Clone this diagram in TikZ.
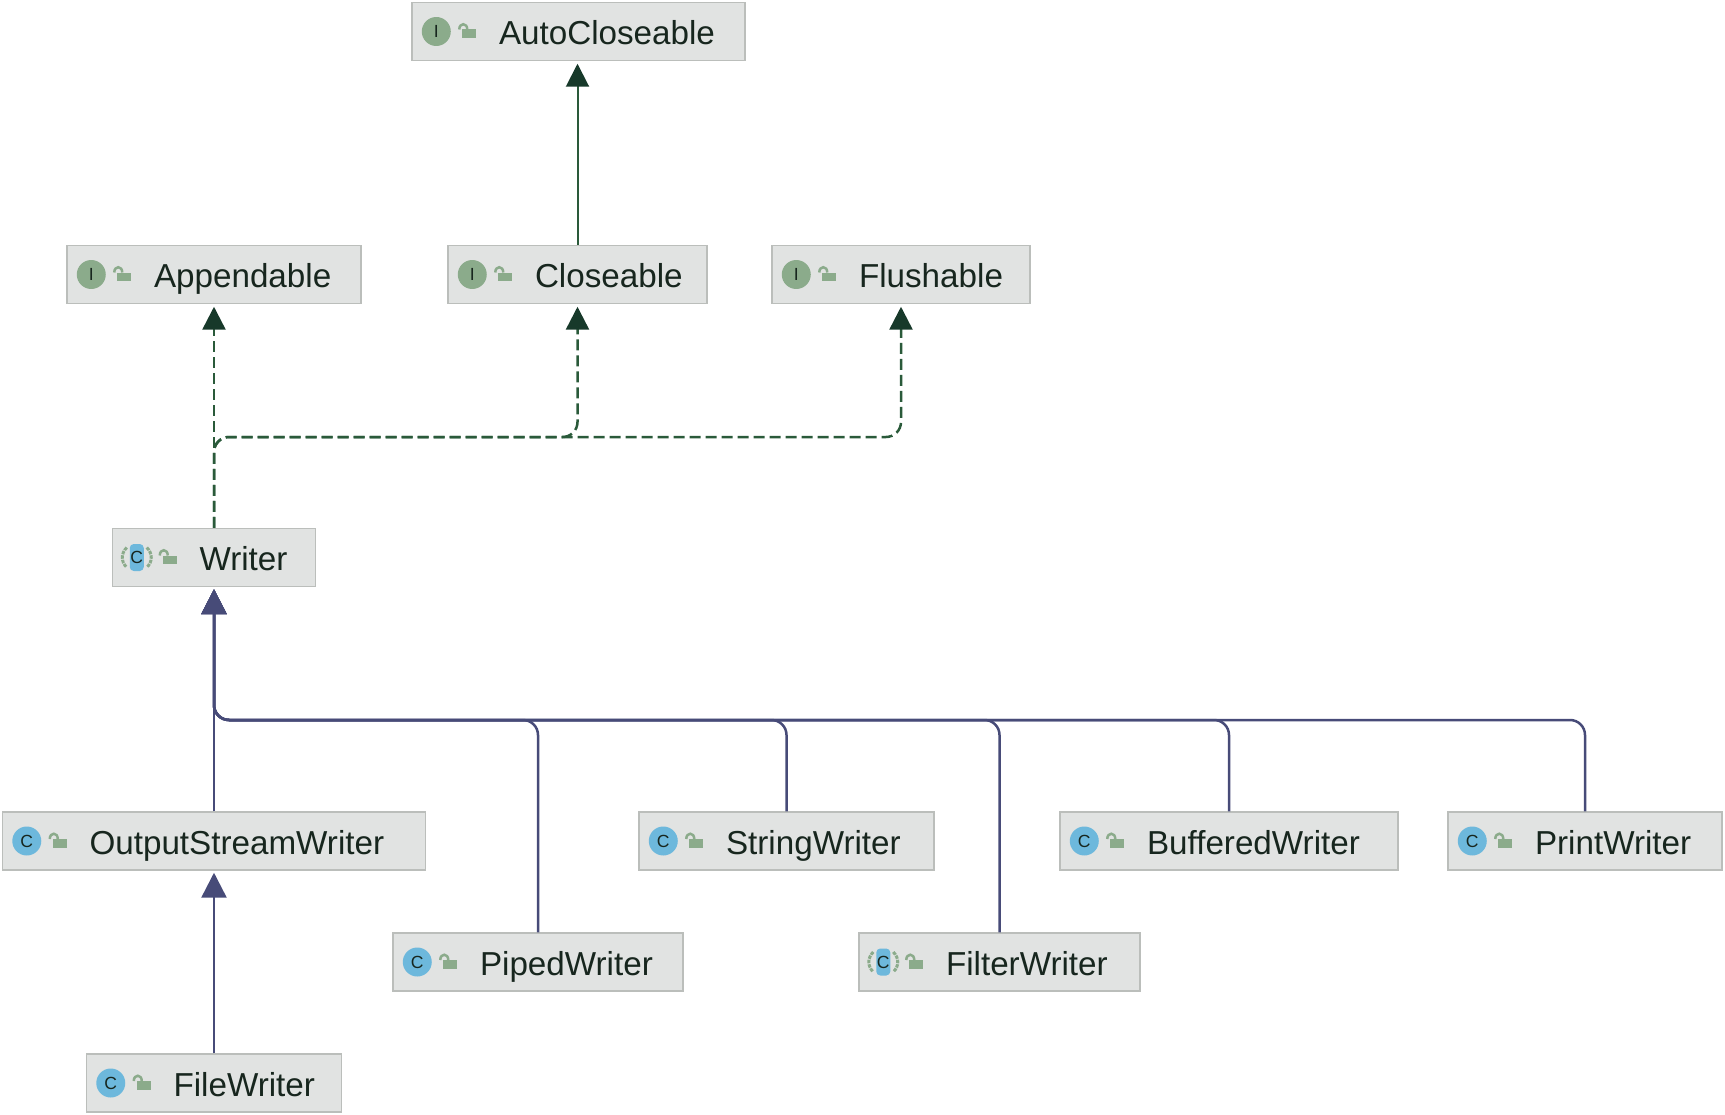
\documentclass[tikz,border=0pt]{standalone}
\usepackage{fontspec}
\setmainfont{Liberation Sans}
\usetikzlibrary{arrows.meta}
\definecolor{box_fill}{HTML}{E1E3E2}
\definecolor{box_line}{HTML}{BBBEBB}
\definecolor{text_dark}{HTML}{17261E}
\definecolor{icon_green}{HTML}{8BAB8B}
\definecolor{icon_blue}{HTML}{6DB8DC}
\definecolor{edge_navy}{HTML}{474B78}
\definecolor{edge_green}{HTML}{2A5A3A}
\definecolor{tip_green}{HTML}{17392A}
\tikzstyle{node_class} = [draw=box_line, fill=box_fill, line width=0.03cm, text=text_dark, font=\fontsize{18.9}{20}\selectfont, align=left, minimum height=1.16cm, inner sep=0pt, text height=0.53cm, text depth=0pt, execute at begin node={\hspace*{1.74cm}}]
\tikzstyle{icon_circle} = [circle, inner sep=0pt, minimum size=0.58cm, text=text_dark, font=\fontsize{10}{10}\selectfont]
\tikzstyle{icon_abstract} = [rectangle, rounded corners=0.08cm, fill=icon_blue, inner sep=0pt, minimum width=0.28cm, minimum height=0.54cm, text=text_dark, font=\fontsize{10}{10}\selectfont]
\tikzstyle{edge_extends} = [edge_navy, line width=0.05cm, rounded corners=0.3cm, shorten >=0.04cm, -{Triangle[length=0.5cm,width=0.5cm]}]
\tikzstyle{edge_inherit} = [edge_green, line width=0.04cm, rounded corners=0.3cm, shorten >=0.05cm, -{Triangle[length=0.46cm,width=0.46cm,color=tip_green]}]
\tikzstyle{edge_implements} = [edge_inherit, line width=0.05cm, dash pattern=on 0.22cm off 0.1cm]
\tikzset{
	lock_icon/.pic={
		\fill[icon_green] (-6,-2) rectangle (8,6.5);
		\draw[icon_green, line width=0.05cm] (-9,-2) .. controls (-9,-9) and (-1,-9) .. (-1,-2);
	},
	abstract_marks/.pic={
		\draw[icon_green, line width=0.06cm, dash pattern=on 0.07cm off 0.02cm] (-10,-10) .. controls (-16,-4) and (-16,4) .. (-10,10);
		\draw[icon_green, line width=0.06cm, dash pattern=on 0.07cm off 0.02cm] (10,-10) .. controls (16,-4) and (16,4) .. (10,10);
	}
}

\begin{document}
\begin{tikzpicture}[x=0.02cm, y=-0.02cm]
	\useasboundingbox (0,0) rectangle (1725,1115);

	\node (autocloseable) at (578.5,31.5) [node_class, text width=6.66cm] {AutoCloseable};
	\node (appendable) at (214,274.5) [node_class, text width=5.88cm] {Appendable};
	\node (closeable) at (577.5,274.5) [node_class, text width=5.18cm] {Closeable};
	\node (flushable) at (901,274.5) [node_class, text width=5.16cm] {Flushable};
	\node (writer) at (214,557.5) [node_class, text width=4.06cm] {Writer};
	\node (outputstream) at (214,841) [node_class, text width=8.46cm] {OutputStreamWriter};
	\node (string) at (786.5,841) [node_class, text width=5.9cm] {StringWriter};
	\node (buffered) at (1229,841) [node_class, text width=6.76cm] {BufferedWriter};
	\node (print) at (1585,841) [node_class, text width=5.48cm] {PrintWriter};
	\node (piped) at (538,962) [node_class, text width=5.8cm] {PipedWriter};
	\node (filter) at (999.5,962) [node_class, text width=5.62cm] {FilterWriter};
	\node (file) at (214,1083) [node_class, text width=5.1cm] {FileWriter};

	% icons
	\foreach \n in {autocloseable,appendable,closeable,flushable}
		\node (\n_icon) at ([xshift=0.5cm]\n.west) [icon_circle, fill=icon_green] {I};
	\foreach \n in {outputstream,string,buffered,print,piped,file}
		\node (\n_icon) at ([xshift=0.5cm]\n.west) [icon_circle, fill=icon_blue] {C};
	\foreach \n in {writer,filter} {
		\pic at ([xshift=0.5cm]\n.west) {abstract_marks};
		\node (\n_icon) at ([xshift=0.5cm]\n.west) [icon_abstract] {C};
	}
	\foreach \n in {autocloseable,appendable,closeable,flushable,writer,outputstream,string,buffered,print,piped,filter,file}
		\pic at ([xshift=1.14cm]\n.west) {lock_icon};

	\coordinate (impl_bend) at (writer.north |- 0,437);
	\coordinate (ext_bend) at (writer.south |- 0,720);

	\draw[edge_inherit] (closeable.north) -- (closeable.north |- autocloseable.south);
	\draw[edge_implements] (writer.north) -- (appendable.south);
	\draw[edge_implements] (writer.north) -- (impl_bend) -| (closeable.south);
	\draw[edge_implements] (writer.north) -- (impl_bend) -| (flushable.south);

	\draw[edge_extends] (outputstream.north) -- (writer.south);
	\draw[edge_extends] (piped.north) |- (ext_bend) -- (writer.south);
	\draw[edge_extends] (string.north) |- (ext_bend) -- (writer.south);
	\draw[edge_extends] (filter.north) |- (ext_bend) -- (writer.south);
	\draw[edge_extends] (buffered.north) |- (ext_bend) -- (writer.south);
	\draw[edge_extends] (print.north) |- (ext_bend) -- (writer.south);
	\draw[edge_extends] (file.north) -- (outputstream.south);
\end{tikzpicture}
\end{document}
